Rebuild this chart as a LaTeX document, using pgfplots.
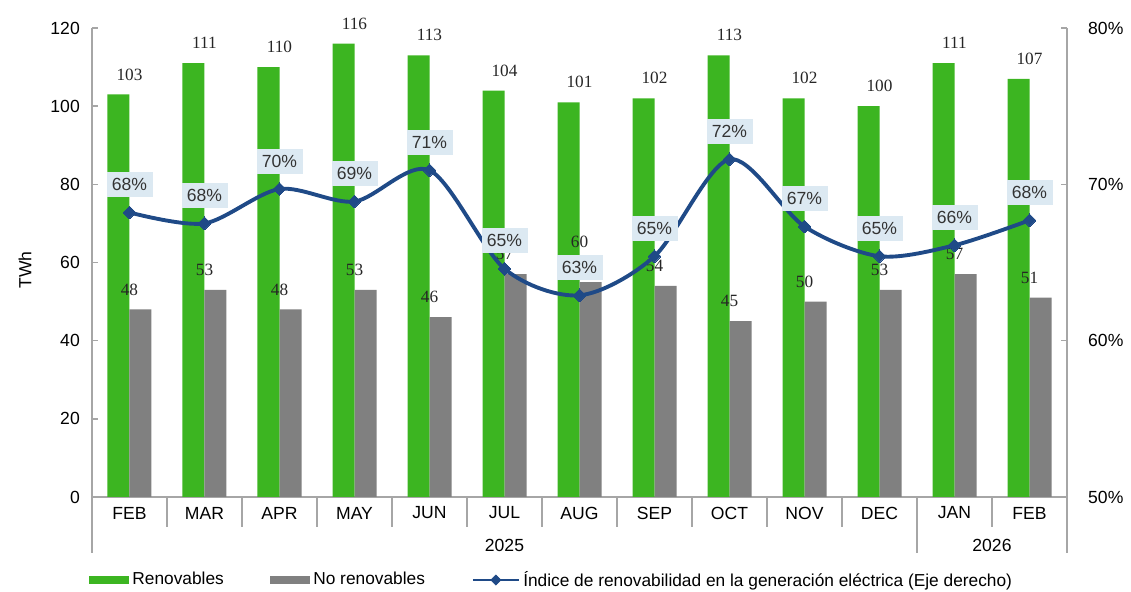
\documentclass[border=0pt]{standalone}
\usepackage{fontspec}
\setmainfont{Liberation Sans}
\newfontfamily\numfont{Liberation Serif}
\usepackage{pgfplots}
\usepackage{pgfplotstable}
\pgfplotsset{compat=1.18}

\definecolor{rgreen}{HTML}{3CB521}
\definecolor{rgray}{HTML}{808080}
\definecolor{rblue}{HTML}{1F4A87}
\definecolor{lblbox}{HTML}{DCE9F2}
\definecolor{axgray}{HTML}{A6A6A6}

% bars: renovables / no renovables (TWh); nlab = printed label, ndy = extra label lift (px)
\pgfplotstableread{
x ren noren nlab ndy
0 103 48 48 0
1 111 53 53 0
2 110 48 48 0
3 116 53 53 0
4 113 46 46 0
5 104 57 57 0
6 101 55 60 20
7 102 54 54 0
8 113 45 45 0
9 102 50 50 0
10 100 53 53 0
11 111 57 57 0
12 107 51 51 0
}\bars

% indice de renovabilidad (%)
\pgfplotstableread{
x idx lab
0 68.2 68
1 67.5 68
2 69.7 70
3 68.9 69
4 70.9 71
5 64.6 65
6 62.9 63
7 65.4 65
8 71.6 72
9 67.3 67
10 65.4 65
11 66.1 66
12 67.7 68
}\indice

\newcommand{\tickfont}{\fontsize{10}{12}\selectfont}
\newcommand{\legfont}{\fontsize{9.85}{12}\selectfont}
\newcommand{\barfont}{\numfont\fontsize{9.8}{11}\selectfont}

\begin{document}
\begin{tikzpicture}
\useasboundingbox (-1.84,-1.9) rectangle (20.78,9.94);

\begin{axis}[
    scale only axis,
    width=19.5cm, height=9.38cm,
    xmin=-0.5, xmax=12.5,
    ymin=0, ymax=120,
    ybar=0pt, bar width=0.44cm,
    axis y line*=left, axis x line*=bottom,
    axis line style={draw=axgray, line width=0.8pt},
    xtick={0,...,12},
    xticklabels={FEB,MAR,APR,MAY,JUN,JUL,AUG,SEP,OCT,NOV,DEC,JAN,FEB},
    major x tick style={draw=none},
    ytick={0,20,...,120},
    ytick style={draw=axgray, line width=0.8pt},
    tick align=inside, major tick length=0.12cm,
    /pgf/number format/assume math mode=true,
    yticklabel style={font=\tickfont, xshift=-0.12cm},
    xticklabel style={font=\tickfont, anchor=center, yshift=-0.32cm},
    ylabel={TWh},
    ylabel style={at={(axis description cs:-0.0687,0.484)}, anchor=center, font=\tickfont},
    clip=false,
    legend style={at={(axis description cs:-0.003,-0.177)}, anchor=west,
        legend columns=-1, draw=none, fill=none, inner sep=0pt,
        font=\legfont,
        nodes={inner sep=0.06cm},
        /tikz/every even column/.append style={column sep=0.87cm}},
]
\addplot[draw=none, fill=rgreen,
    nodes near coords,
    every node near coord/.style={font=\barfont, text=black!85, anchor=center, yshift=0.4cm},
    legend image code/.code={\fill[rgreen] (0cm,-0.08cm) rectangle (0.8cm,0.08cm);}]
    table[x=x, y=ren] {\bars};
\addlegendentry{Renovables}

\addplot[draw=none, fill=rgray,
    visualization depends on={\thisrow{ndy} \as \ndy},
    point meta=explicit symbolic,
    nodes near coords,
    every node near coord/.style={font=\barfont, text=black!85, anchor=center, yshift=0.4cm+\ndy*0.02cm},
    legend image code/.code={\fill[rgray] (0cm,-0.08cm) rectangle (0.8cm,0.08cm);}]
    table[x=x, y=noren, meta=nlab] {\bars};
\addlegendentry{No renovables}

\addlegendimage{legend image code/.code={
    \draw[rblue, line width=1.6pt] (0cm,0cm) -- (0.92cm,0cm);
    \fill[rblue] (0.46cm,0.1cm) -- (0.56cm,0cm) -- (0.46cm,-0.1cm) -- (0.36cm,0cm) -- cycle;}}
\addlegendentry{Índice de renovabilidad en la generación eléctrica (Eje derecho)}

% category separators and year groups
\pgfplotsinvokeforeach{0.5,1.5,2.5,3.5,4.5,5.5,6.5,7.5,8.5,9.5,11.5}{
    \draw[axgray, line width=0.6pt] (axis cs:#1,0) -- ([yshift=-0.6cm]axis cs:#1,0);
}
\pgfplotsinvokeforeach{-0.5,10.5,12.5}{
    \draw[axgray, line width=0.6pt] (axis cs:#1,0) -- ([yshift=-1.12cm]axis cs:#1,0);
}
\node[font=\tickfont] at ([yshift=-0.96cm]axis cs:5,0) {2025};
\node[font=\tickfont] at ([yshift=-0.96cm]axis cs:11.5,0) {2026};
\end{axis}

\begin{axis}[
    scale only axis,
    width=19.5cm, height=9.38cm,
    xmin=-0.5, xmax=12.5,
    ymin=50, ymax=80,
    axis y line*=right, axis x line=none,
    axis line style={draw=axgray, line width=0.8pt},
    ytick={50,60,70,80},
    ytick style={draw=axgray, line width=0.8pt},
    tick align=inside, major tick length=0.12cm,
    /pgf/number format/assume math mode=true,
    yticklabel={\pgfmathprintnumber{\tick}\%},
    yticklabel style={font=\tickfont, xshift=0.3cm},
    clip=false,
]
\addplot[rblue, line width=2.2pt, smooth, tension=0.5,
    mark=square*, mark size=2.6pt,
    mark options={rotate=45, fill=rblue, line width=0pt},
    point meta=explicit symbolic,
    nodes near coords={\pgfplotspointmeta\%},
    every node near coord/.style={fill=lblbox, text=black!80, anchor=center,
        yshift=0.56cm, minimum width=0.92cm, minimum height=0.5cm, inner sep=0pt,
        font=\tickfont}]
    table[x=x, y=idx, meta=lab] {\indice};
\end{axis}
\end{tikzpicture}
\end{document}
